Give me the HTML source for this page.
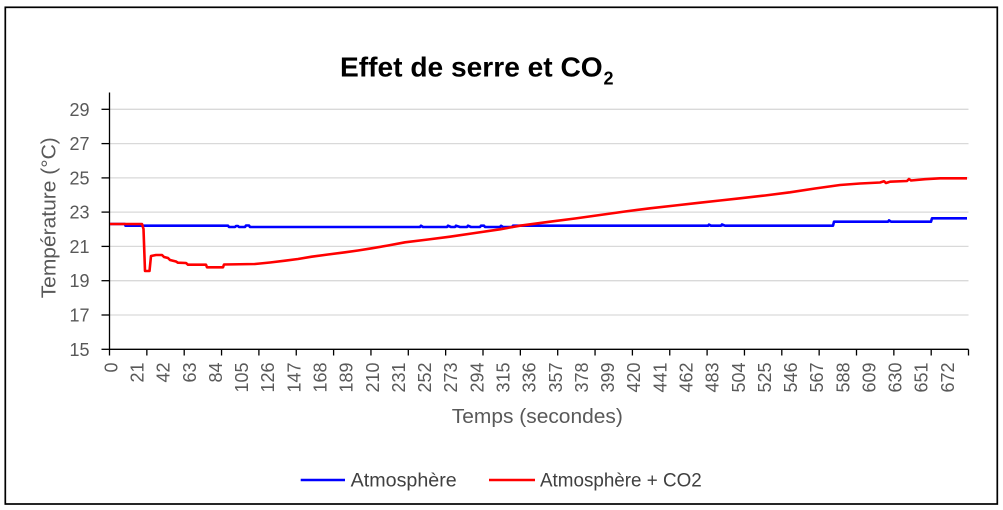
<!DOCTYPE html>
<html>
<head>
<meta charset="utf-8">
<style>
  html, body { margin: 0; padding: 0; background: #ffffff; }
  body { width: 1003px; height: 510px; overflow: hidden; }
  svg { display: block; }
  text { font-family: "Liberation Sans", "DejaVu Sans", sans-serif; }
</style>
</head>
<body>
<svg width="1003" height="510" viewBox="0 0 1003 510" xmlns="http://www.w3.org/2000/svg">
  <rect x="0" y="0" width="1003" height="510" fill="#ffffff"/>
  <!-- outer border -->
  <rect x="5.3" y="7.3" width="992" height="496.7" fill="none" stroke="#000" stroke-width="1.7"/>

  <!-- title -->
  <text x="340" y="76.7" font-size="28" font-weight="bold" fill="#000" textLength="262.7" lengthAdjust="spacingAndGlyphs">Effet de serre et CO</text>
  <text x="603.5" y="84.5" font-size="18" font-weight="bold" fill="#000">2</text>

  <!-- gridlines -->
  <g stroke="#d9d9d9" stroke-width="1.3">
    <line x1="109.5" y1="109.3" x2="968.5" y2="109.3"/>
    <line x1="109.5" y1="143.6" x2="968.5" y2="143.6"/>
    <line x1="109.5" y1="177.9" x2="968.5" y2="177.9"/>
    <line x1="109.5" y1="212.1" x2="968.5" y2="212.1"/>
    <line x1="109.5" y1="246.4" x2="968.5" y2="246.4"/>
    <line x1="109.5" y1="280.7" x2="968.5" y2="280.7"/>
    <line x1="109.5" y1="315.0" x2="968.5" y2="315.0"/>
  </g>

  <!-- axes -->
  <g stroke="#000" stroke-width="1.3">
    <line x1="109.5" y1="92.5" x2="109.5" y2="355.5"/>
    <line x1="109.5" y1="349.3" x2="968.5" y2="349.3"/>
    <!-- y ticks -->
    <line x1="101.5" y1="109.3" x2="109.5" y2="109.3"/>
    <line x1="101.5" y1="143.6" x2="109.5" y2="143.6"/>
    <line x1="101.5" y1="177.9" x2="109.5" y2="177.9"/>
    <line x1="101.5" y1="212.1" x2="109.5" y2="212.1"/>
    <line x1="101.5" y1="246.4" x2="109.5" y2="246.4"/>
    <line x1="101.5" y1="280.7" x2="109.5" y2="280.7"/>
    <line x1="101.5" y1="315.0" x2="109.5" y2="315.0"/>
    <line x1="101.5" y1="349.3" x2="109.5" y2="349.3"/>
  </g>
  <!-- x ticks every 37.35px -->
  <g stroke="#000" stroke-width="1.3">
    <line x1="146.85" y1="349.3" x2="146.85" y2="355.5"/>
    <line x1="184.2" y1="349.3" x2="184.2" y2="355.5"/>
    <line x1="221.55" y1="349.3" x2="221.55" y2="355.5"/>
    <line x1="258.9" y1="349.3" x2="258.9" y2="355.5"/>
    <line x1="296.25" y1="349.3" x2="296.25" y2="355.5"/>
    <line x1="333.6" y1="349.3" x2="333.6" y2="355.5"/>
    <line x1="370.95" y1="349.3" x2="370.95" y2="355.5"/>
    <line x1="408.3" y1="349.3" x2="408.3" y2="355.5"/>
    <line x1="445.65" y1="349.3" x2="445.65" y2="355.5"/>
    <line x1="483.0" y1="349.3" x2="483.0" y2="355.5"/>
    <line x1="520.35" y1="349.3" x2="520.35" y2="355.5"/>
    <line x1="557.7" y1="349.3" x2="557.7" y2="355.5"/>
    <line x1="595.05" y1="349.3" x2="595.05" y2="355.5"/>
    <line x1="632.4" y1="349.3" x2="632.4" y2="355.5"/>
    <line x1="669.75" y1="349.3" x2="669.75" y2="355.5"/>
    <line x1="707.1" y1="349.3" x2="707.1" y2="355.5"/>
    <line x1="744.45" y1="349.3" x2="744.45" y2="355.5"/>
    <line x1="781.8" y1="349.3" x2="781.8" y2="355.5"/>
    <line x1="819.15" y1="349.3" x2="819.15" y2="355.5"/>
    <line x1="856.5" y1="349.3" x2="856.5" y2="355.5"/>
    <line x1="893.85" y1="349.3" x2="893.85" y2="355.5"/>
    <line x1="931.2" y1="349.3" x2="931.2" y2="355.5"/>
    <line x1="968.5" y1="349.3" x2="968.5" y2="355.5"/>
  </g>

  <!-- y tick labels -->
  <g font-size="18" fill="#595959" text-anchor="end">
    <text x="89.5" y="115.8">29</text>
    <text x="89.5" y="150.1">27</text>
    <text x="89.5" y="184.4">25</text>
    <text x="89.5" y="218.6">23</text>
    <text x="89.5" y="252.9">21</text>
    <text x="89.5" y="287.2">19</text>
    <text x="89.5" y="321.5">17</text>
    <text x="89.5" y="355.8">15</text>
  </g>

  <!-- x tick labels (rotated) -->
  <g font-size="18" fill="#595959" text-anchor="end">
    <text transform="translate(117.4,362.5) rotate(-90)">0</text>
    <text transform="translate(143.54,362.5) rotate(-90)">21</text>
    <text transform="translate(169.68,362.5) rotate(-90)">42</text>
    <text transform="translate(195.82,362.5) rotate(-90)">63</text>
    <text transform="translate(221.96,362.5) rotate(-90)">84</text>
    <text transform="translate(248.1,362.5) rotate(-90)">105</text>
    <text transform="translate(274.24,362.5) rotate(-90)">126</text>
    <text transform="translate(300.38,362.5) rotate(-90)">147</text>
    <text transform="translate(326.52,362.5) rotate(-90)">168</text>
    <text transform="translate(352.66,362.5) rotate(-90)">189</text>
    <text transform="translate(378.8,362.5) rotate(-90)">210</text>
    <text transform="translate(404.94,362.5) rotate(-90)">231</text>
    <text transform="translate(431.08,362.5) rotate(-90)">252</text>
    <text transform="translate(457.22,362.5) rotate(-90)">273</text>
    <text transform="translate(483.36,362.5) rotate(-90)">294</text>
    <text transform="translate(509.5,362.5) rotate(-90)">315</text>
    <text transform="translate(535.64,362.5) rotate(-90)">336</text>
    <text transform="translate(561.78,362.5) rotate(-90)">357</text>
    <text transform="translate(587.92,362.5) rotate(-90)">378</text>
    <text transform="translate(614.06,362.5) rotate(-90)">399</text>
    <text transform="translate(640.2,362.5) rotate(-90)">420</text>
    <text transform="translate(666.34,362.5) rotate(-90)">441</text>
    <text transform="translate(692.48,362.5) rotate(-90)">462</text>
    <text transform="translate(718.62,362.5) rotate(-90)">483</text>
    <text transform="translate(744.76,362.5) rotate(-90)">504</text>
    <text transform="translate(770.9,362.5) rotate(-90)">525</text>
    <text transform="translate(797.04,362.5) rotate(-90)">546</text>
    <text transform="translate(823.18,362.5) rotate(-90)">567</text>
    <text transform="translate(849.32,362.5) rotate(-90)">588</text>
    <text transform="translate(875.46,362.5) rotate(-90)">609</text>
    <text transform="translate(901.6,362.5) rotate(-90)">630</text>
    <text transform="translate(927.74,362.5) rotate(-90)">651</text>
    <text transform="translate(953.88,362.5) rotate(-90)">672</text>
  </g>

  <!-- axis titles -->
  <text transform="translate(55.5,217.8) rotate(-90)" text-anchor="middle" font-size="20.5" fill="#595959" textLength="161" lengthAdjust="spacingAndGlyphs">Température (°C)</text>
  <text x="537.3" y="423" text-anchor="middle" font-size="20.5" fill="#595959" textLength="171" lengthAdjust="spacingAndGlyphs">Temps (secondes)</text>

  <!-- series: Atmosphère (blue) -->
  <polyline fill="none" stroke="#0000ff" stroke-width="2.6" stroke-linejoin="round"
    points="110,224 125,224 125.5,225.7 228,225.7 229,227 235,227 236,226 238,226 239,227 245,227 246,225.5 249,225.5 250,227 420,227 421,225.7 423,227 447,227 448,225.7 451,227 455,227 456,225.7 460,227 467,227 468,225.7 471,227 480,227 481,225.7 484,225.7 485,227 500,227 501,225.8 503,227 512,227 513,225.7 708,225.7 709,224.6 711,225.7 721,225.7 722,224.5 725,225.7 833,225.7 834,221.7 888,221.7 889,220.4 891,221.7 931,221.7 932,218.3 967,218.3"/>

  <!-- series: Atmosphère + CO2 (red) -->
  <polyline fill="none" stroke="#ff0000" stroke-width="2.6" stroke-linejoin="round"
    points="110,224 142,224 143.5,229 145,271 149.5,271 151,256 156,255 162,255 164,257 168,258 170,260 176,261.5 178,262.7 186,263 188,264.7 206,264.7 207,267.3 223,267.3 224,264.5 255,264 270,262.5 285,260.7 298,259 311.7,256.7 328,254.5 345,252.3 358,250.5 371.7,248.3 388,245.5 405,242.3 428,239.5 450,236.7 475,233 500,229.3 520,225.7 550,221.7 575,218.5 600,215 625,211.5 650,208.3 675,205.5 700,202.7 720,200.5 740,198.3 765,195.5 790,192.3 815,188.5 840,185 860,183.5 880,182.5 884,181.3 886,183 890,181.7 907,181 909,179 911,180.5 925,179.2 940,178.3 967,178.3"/>

  <!-- legend -->
  <line x1="300.7" y1="480" x2="345" y2="480" stroke="#0000ff" stroke-width="2.6"/>
  <text x="350.7" y="486.5" font-size="19.5" fill="#404040" textLength="106" lengthAdjust="spacingAndGlyphs">Atmosphère</text>
  <line x1="489" y1="480" x2="535" y2="480" stroke="#ff0000" stroke-width="2.6"/>
  <text x="540" y="486.5" font-size="19.5" fill="#404040" textLength="161.7" lengthAdjust="spacingAndGlyphs">Atmosphère + CO2</text>
</svg>
</body>
</html>
